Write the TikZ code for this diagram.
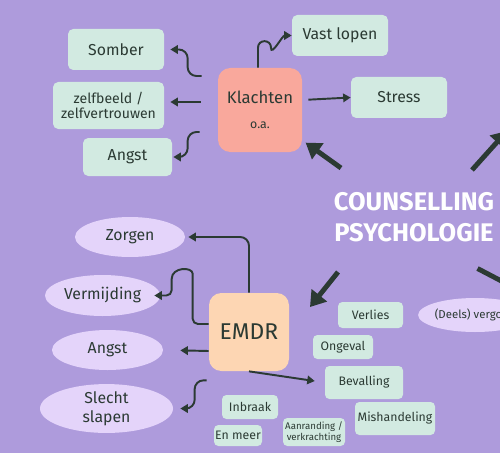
\documentclass[tikz,border=0pt]{standalone}
\usepackage{fontspec}
\setmainfont{Fira Sans}
\usetikzlibrary{arrows.meta,shapes.geometric}
\definecolor{bgpurple}{HTML}{AE9BDC}
\definecolor{mint}{HTML}{D2EAE1}
\definecolor{salmon}{HTML}{F9A89C}
\definecolor{peach}{HTML}{FDD6B3}
\definecolor{lilac}{HTML}{E4D4FA}
\definecolor{ink}{HTML}{2B3A33}

\begin{document}
\begin{tikzpicture}[
  box/.style={fill=mint,rounded corners=3pt,inner sep=0pt,align=center,text=ink,font=\fontsize{9}{10}\selectfont},
  small/.style={box,rounded corners=2.5pt,font=\fontsize{7}{8}\selectfont},
  bubble/.style={ellipse,fill=lilac,inner sep=0pt,align=center,text=ink,font=\fontsize{9}{10}\selectfont},
  hub/.style={rounded corners=7pt,inner sep=0pt,align=center,text=ink},
  arr/.style={ink,line width=1.1pt,rounded corners=5pt,-{Triangle[length=0.15cm,width=0.17cm]}},
  bigarr/.style={ink,line width=2.8pt,-{Triangle[length=0.3cm,width=0.38cm]}}
]
\useasboundingbox (0,0) rectangle (10,9.06);
\clip (0,0) rectangle (10,9.06);
\fill[bgpurple] (0,0) rectangle (10,9.06);
%\draw[step=1cm,white,very thin] (0,0) grid (10,9);

% klachten
\node[hub,fill=salmon,minimum width=1.68cm,minimum height=1.68cm] (kl) at (5.2,6.86) {\fontsize{9.5}{11}\selectfont Klachten\\[2pt]\fontsize{7}{8}\selectfont o.a.};
\node[box,minimum width=1.92cm,minimum height=0.82cm] (somber) at (2.32,8.07) {Somber};
\node[box,minimum width=2.22cm,minimum height=0.94cm,font=\fontsize{8}{9}\selectfont] (zelf) at (2.17,6.95) {zelfbeeld /\\zelfvertrouwen};
\node[box,minimum width=1.78cm,minimum height=0.76cm] (angst1) at (2.55,5.92) {Angst};
\node[box,minimum width=1.92cm,minimum height=0.82cm] (vast) at (6.8,8.35) {Vast lopen};
\node[box,minimum width=1.92cm,minimum height=0.82cm] (stress) at (7.98,7.11) {Stress};

\draw[arr,shorten <=0.32cm,shorten >=0.12cm] ([yshift=0.68cm]kl.west) -- ++(-0.6,0) |- (somber);
\draw[arr,shorten <=0.34cm,shorten >=0.12cm] ([yshift=0.16cm]kl.west) -- ([yshift=0.07cm]zelf.east);
\draw[arr,shorten <=0.36cm,shorten >=0.02cm] ([yshift=-0.44cm]kl.west) -- ++(-0.6,0) |- (angst1);
\draw[arr,sharp corners] ([xshift=-0.04cm]kl.north) -- ++(0,0.4) to[out=90,in=90,looseness=1.7] ++(0.26,0) to[out=-90,in=180] (vast.west);
\draw[arr,shorten <=0.12cm] ([yshift=0.2cm]kl.east) -- (stress.west);

% midden
\node[text=white,align=center,font=\fontsize{14.5}{17.6}\selectfont\bfseries] (couns) at (8.28,4.72) {COUNSELLING\\PSYCHOLOGIE};
\coordinate (nw1) at (6.82,5.7);
\coordinate (ne1) at (9.44,5.66);
\coordinate (ne2) at (10.14,6.44);
\coordinate (sw1) at (6.76,3.62);
\coordinate (sw2) at (6.2,2.92);
\coordinate (se1) at (9.55,3.69);
\coordinate (se2) at (10.45,3.22);
\draw[bigarr,shorten >=0.08cm] (nw1) -- (kl);
\draw[bigarr] (ne1) -- (ne2);
\draw[bigarr] (sw1) -- (sw2);
\draw[bigarr] (se1) -- (se2);

% emdr
\node[hub,fill=peach,minimum width=1.6cm,minimum height=1.56cm,font=\fontsize{13}{15}\selectfont] (emdr) at (4.98,2.42) {EMDR};
\node[bubble,minimum width=2.2cm,minimum height=0.8cm] (zorgen) at (2.6,4.32) {Zorgen};
\node[bubble,minimum width=2.3cm,minimum height=0.82cm] (verm) at (2.05,3.15) {Vermijding};
\node[bubble,minimum width=2.22cm,minimum height=0.8cm] (angst2) at (2.15,2.06) {Angst};
\node[bubble,minimum width=2.66cm,minimum height=0.94cm,font=\fontsize{9}{11}\selectfont] (slecht) at (2.13,0.89) {Slecht\\slapen};
\node[bubble,minimum width=2.12cm,minimum height=0.68cm,font=\fontsize{6.5}{8}\selectfont] (deels) at (9.5,2.76) {(Deels) vergoed};

\node[small,minimum width=1.3cm,minimum height=0.52cm] (verlies) at (7.41,2.76) {Verlies};
\node[small,minimum width=1.2cm,minimum height=0.48cm] (ongeval) at (6.86,2.12) {Ongeval};
\node[small,minimum width=1.56cm,minimum height=0.66cm] (bev) at (7.28,1.41) {Bevalling};
\node[small,minimum width=1.6cm,minimum height=0.66cm] (mis) at (7.9,0.69) {Mishandeling};
\node[small,minimum width=1.24cm,minimum height=0.56cm,font=\fontsize{5.5}{6}\selectfont] (aanr) at (6.28,0.42) {Aanranding /\\verkrachting};
\node[small,minimum width=1.12cm,minimum height=0.48cm] (inbraak) at (5.0,0.92) {Inbraak};
\node[small,minimum width=0.96cm,minimum height=0.42cm] (meer) at (4.76,0.35) {En meer};

\draw[arr,shorten >=0.06cm] (emdr.north) |- (zorgen);
\draw[arr,sharp corners,shorten >=-0.12cm] ([yshift=0.16cm]emdr.west) [rounded corners=3pt] -- ++(-0.32,0) -- ++(0,0.9) [sharp corners] to[out=90,in=90,looseness=1.5] ++(-0.42,0) [rounded corners=3pt] |- (verm);
\draw[arr,shorten >=0.34cm] ([yshift=-0.38cm]emdr.west) -- (angst2.east);
\draw[arr,shorten >=0.14cm] ([xshift=-0.04cm,yshift=-0.18cm]emdr.south west) -- ++(-0.24,0) |- (slecht);
\draw[arr,shorten >=0.2cm] (emdr.south) -- (bev.west);

\end{tikzpicture}
\end{document}
